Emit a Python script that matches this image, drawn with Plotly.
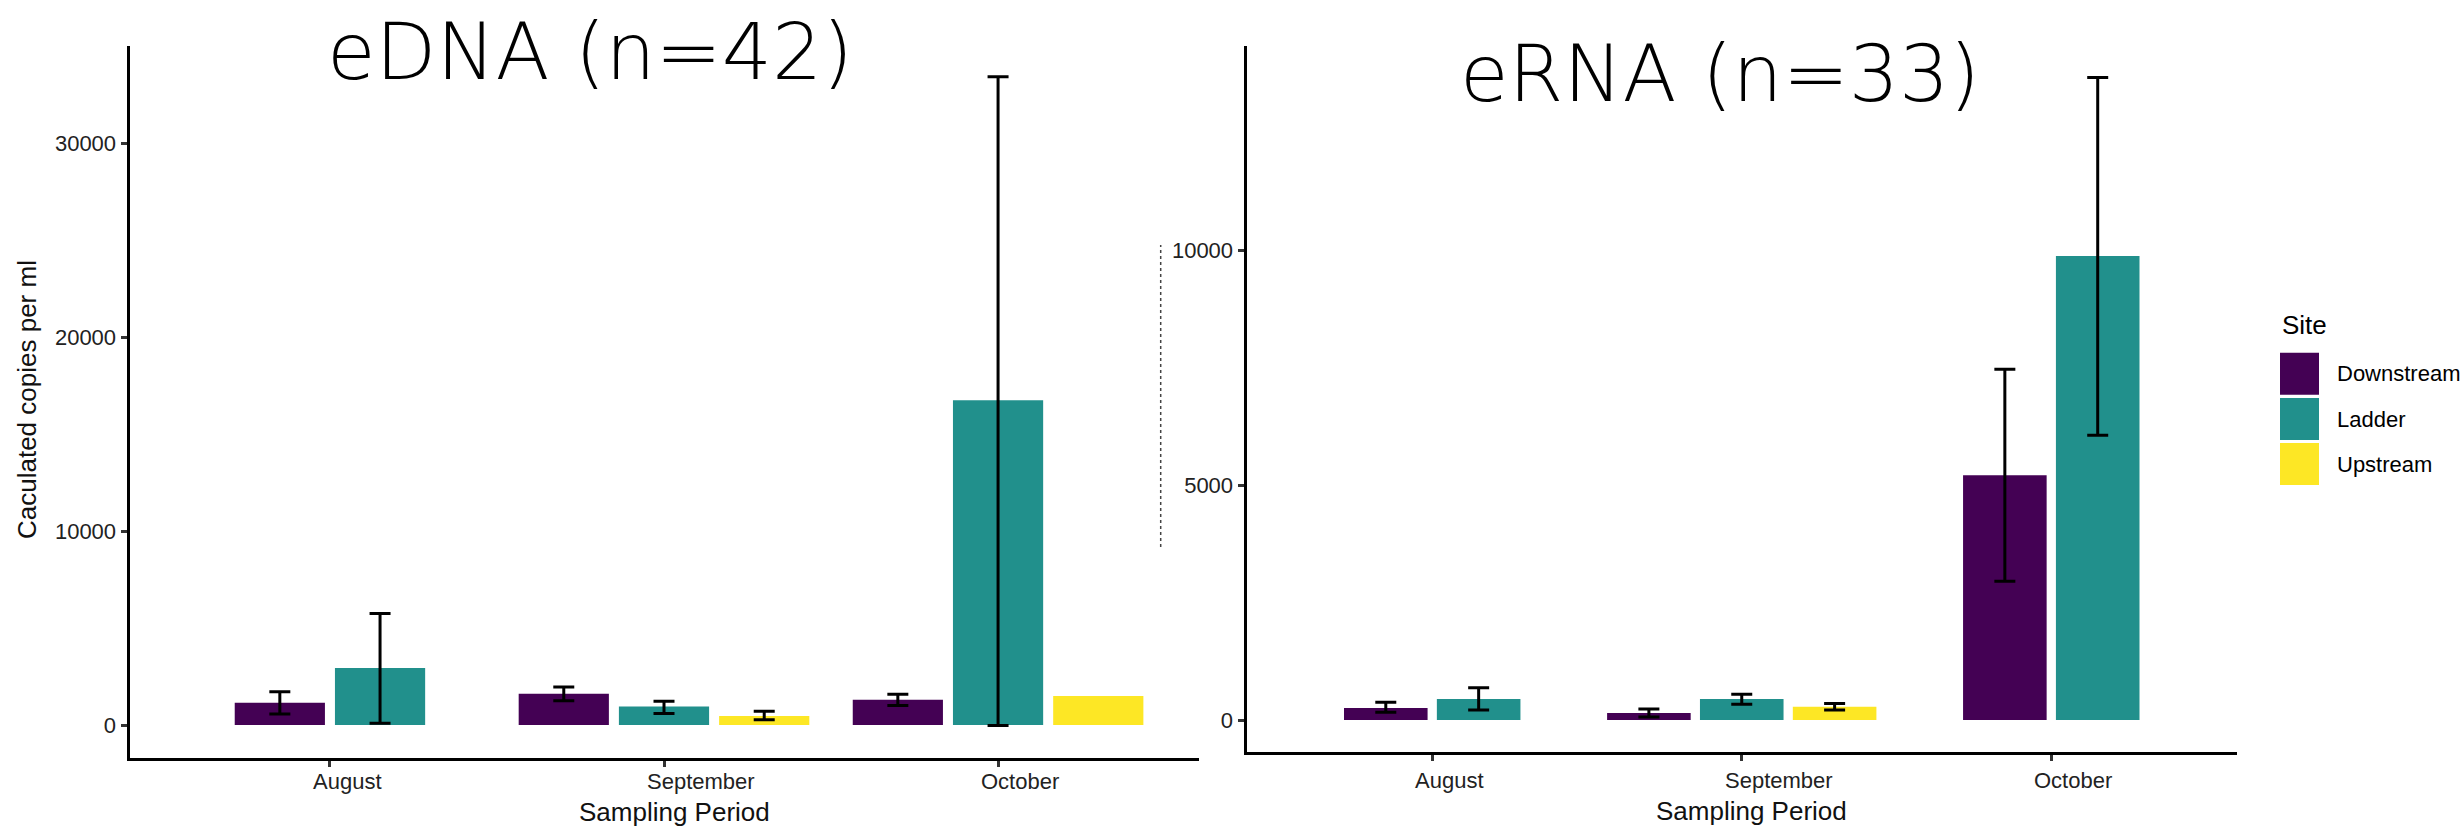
import plotly.graph_objects as go

W, H = 2461, 827

months = ["August", "September", "October"]
sites = ["Downstream", "Ladder", "Upstream"]
site_colors = ["#440154", "#21908C", "#FDE725"]

# eDNA (left panel) — mean and error-bar bounds per site
edna_downstream = [1150, 1606, 1306]
edna_downstream_lo = [567, 1250, 1007]
edna_downstream_hi = [1717, 1962, 1580]
edna_ladder = [2940, 950, 16747]
edna_ladder_lo = [88, 599, -30]
edna_ladder_hi = [5756, 1224, 33437]
edna_upstream = [None, 465, 1497]
edna_upstream_lo = [None, 273, None]
edna_upstream_hi = [None, 707, None]

# eRNA (right panel)
erna_downstream = [256, 149, 5212]
erna_downstream_lo = [164, 64, 2955]
erna_downstream_hi = [377, 234, 7470]
erna_ladder = [447, 447, 9885]
erna_ladder_lo = [213, 334, 6066]
erna_ladder_hi = [688, 547, 13685]
erna_upstream = [None, 281, None]
erna_upstream_lo = [None, 215, None]
erna_upstream_hi = [None, 349, None]

edna_ticks = [0, 10000, 20000, 30000]
erna_ticks = [0, 5000, 10000]

SLOT = 0.3
BAR_W = 0.27


def px(x):
    return x / W


def py(y):
    return 1 - y / H


def dodge_offsets(series):
    out = []
    for s, vals in enumerate(series):
        offs = []
        for i in range(len(months)):
            present = [k for k, v in enumerate(series) if v[i] is not None]
            if vals[i] is None:
                offs.append(0)
                continue
            j = present.index(s)
            n = len(present)
            center = (j - (n - 1) / 2) * SLOT
            offs.append(center - BAR_W / 2)
        out.append(offs)
    return out


fig = go.Figure()

panels = [
    ("x", "y", [edna_downstream, edna_ladder, edna_upstream],
     [edna_downstream_lo, edna_ladder_lo, edna_upstream_lo],
     [edna_downstream_hi, edna_ladder_hi, edna_upstream_hi]),
    ("x2", "y2", [erna_downstream, erna_ladder, erna_upstream],
     [erna_downstream_lo, erna_ladder_lo, erna_upstream_lo],
     [erna_downstream_hi, erna_ladder_hi, erna_upstream_hi]),
]

for xa, ya, series, los, his in panels:
    offs = dodge_offsets(series)
    for s in range(len(sites)):
        vals, lo, hi = series[s], los[s], his[s]
        with_err = [i for i in range(len(months)) if vals[i] is not None and lo[i] is not None]
        no_err = [i for i in range(len(months)) if vals[i] is not None and lo[i] is None]
        if with_err:
            fig.add_trace(go.Bar(
                x=[months[i] for i in with_err], y=[vals[i] for i in with_err],
                xaxis=xa, yaxis=ya, name=sites[s], showlegend=False,
                marker=dict(color=site_colors[s], line=dict(width=0)),
                width=BAR_W, offset=[offs[s][i] for i in with_err],
                error_y=dict(type="data", symmetric=False,
                             array=[hi[i] - vals[i] for i in with_err],
                             arrayminus=[vals[i] - lo[i] for i in with_err],
                             color="black", thickness=3, width=10.5),
            ))
        if no_err:
            fig.add_trace(go.Bar(
                x=[months[i] for i in no_err], y=[vals[i] for i in no_err],
                xaxis=xa, yaxis=ya, name=sites[s], showlegend=False,
                marker=dict(color=site_colors[s], line=dict(width=0)),
                width=BAR_W, offset=[offs[s][i] for i in no_err],
            ))

tickfont = dict(family="Liberation Sans, Arial, sans-serif", size=22, color="#222222")
axis_common = dict(showline=True, linecolor="black", linewidth=3, ticks="outside",
                   ticklen=6, tickwidth=2.5, tickcolor="#333333", showgrid=False,
                   zeroline=False, tickfont=tickfont)

fig.update_layout(
    width=W, height=H, margin=dict(l=0, r=0, t=0, b=0),
    paper_bgcolor="white", plot_bgcolor="white", barmode="overlay",
    xaxis=dict(domain=[px(129.5), px(1198.5)], type="category", range=[-0.6, 2.6],
               showticklabels=False, anchor="y", **axis_common),
    yaxis=dict(domain=[py(757.5), py(46.4)], range=[-1676, 34997],
               tickvals=edna_ticks, ticktext=[str(t) for t in edna_ticks],
               anchor="x", **axis_common),
    xaxis2=dict(domain=[px(1246.5), px(2237)], type="category", range=[-0.6, 2.6],
                showticklabels=False, anchor="y2", **axis_common),
    yaxis2=dict(domain=[py(751.6), py(46.4)], range=[-673, 14347],
                tickvals=erna_ticks, ticktext=[str(t) for t in erna_ticks],
                anchor="x2", **axis_common),
)

ann = []
txt = "Liberation Sans, Arial, sans-serif"
# x tick labels
for xa, ypix in (("x", 781), ("x2", 780)):
    for m in months:
        ann.append(dict(x=m, xref=xa, y=py(ypix), yref="paper", text=m, showarrow=False,
                        xanchor="left", yanchor="middle", xshift=-19,
                        font=dict(family=txt, size=22, color="#222222")))
# axis titles
ann.append(dict(x=px(674), y=py(812), xref="paper", yref="paper", text="Sampling Period",
                showarrow=False, xanchor="center", yanchor="middle",
                font=dict(family=txt, size=26, color="#111111")))
ann.append(dict(x=px(1751), y=py(811), xref="paper", yref="paper", text="Sampling Period",
                showarrow=False, xanchor="center", yanchor="middle",
                font=dict(family=txt, size=26, color="#111111")))
ann.append(dict(x=px(27), y=py(400), xref="paper", yref="paper",
                text="Caculated copies per ml", textangle=-90, showarrow=False,
                xanchor="center", yanchor="middle",
                font=dict(family=txt, size=26, color="#111111")))
# panel titles
title_font = dict(family="DejaVu Sans, sans-serif", size=79, color="black", weight=300)
ann.append(dict(x=px(590), y=py(52), xref="paper", yref="paper", text="eDNA (n=42)",
                showarrow=False, xanchor="center", yanchor="middle", font=title_font))
ann.append(dict(x=px(1720), y=py(74), xref="paper", yref="paper", text="eRNA (n=33)",
                showarrow=False, xanchor="center", yanchor="middle", font=title_font))
# legend
ann.append(dict(x=px(2280), y=py(325), xref="paper", yref="paper", text="Site",
                showarrow=False, xanchor="left", yanchor="middle",
                font=dict(family=txt, size=26, color="black")))
shapes = []
key_tops = [352.7, 398, 443]
for s in range(len(sites)):
    t = key_tops[s]
    shapes.append(dict(type="rect", xref="paper", yref="paper",
                       x0=px(2280), x1=px(2319), y0=py(t + 42), y1=py(t),
                       fillcolor=site_colors[s], line=dict(width=0)))
    ann.append(dict(x=px(2335), y=py(t + 21), xref="paper", yref="paper", text=sites[s],
                    showarrow=False, xanchor="left", yanchor="middle",
                    font=dict(family=txt, size=22, color="black")))
# squeezed right-panel y title artifact (dotted sliver)
shapes.append(dict(type="line", xref="paper", yref="paper", x0=px(1160.7), x1=px(1160.7),
                   y0=py(547), y1=py(245), line=dict(color="#444444", width=1.5, dash="dot")))

fig.update_layout(annotations=ann, shapes=shapes)
fig.write_html("out.html", config={"displayModeBar": False},
               post_script="document.body.style.margin='0';")
